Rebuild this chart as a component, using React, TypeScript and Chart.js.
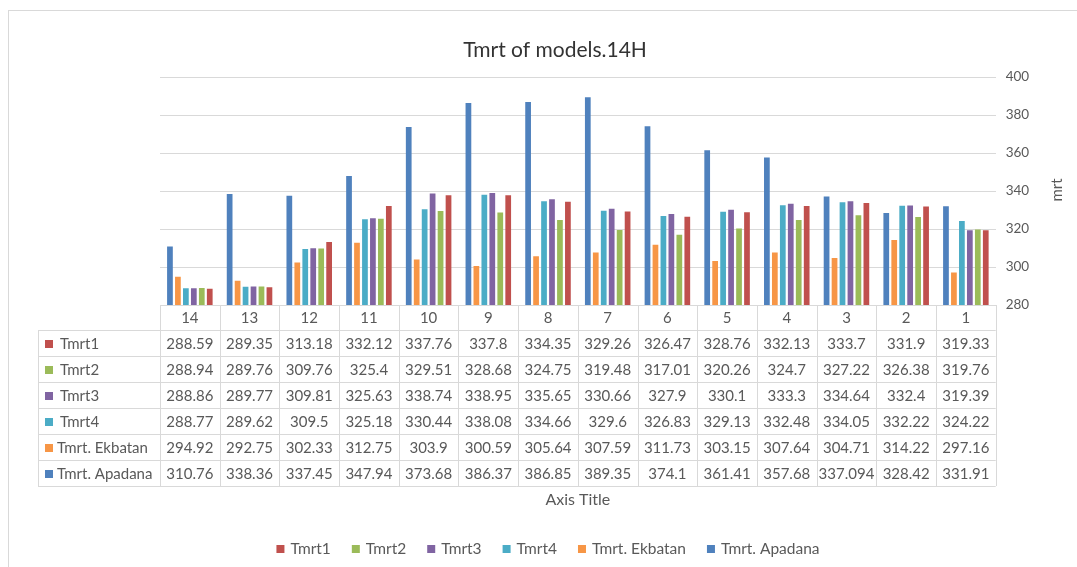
import React, { useEffect, useRef } from "react";
import { Chart, registerables } from "chart.js";

Chart.register(...registerables);

const categories = ["14", "13", "12", "11", "10", "9", "8", "7", "6", "5", "4", "3", "2", "1"];

const tmrt1 = [288.59, 289.35, 313.18, 332.12, 337.76, 337.8, 334.35, 329.26, 326.47, 328.76, 332.13, 333.7, 331.9, 319.33];
const tmrt2 = [288.94, 289.76, 309.76, 325.4, 329.51, 328.68, 324.75, 319.48, 317.01, 320.26, 324.7, 327.22, 326.38, 319.76];
const tmrt3 = [288.86, 289.77, 309.81, 325.63, 338.74, 338.95, 335.65, 330.66, 327.9, 330.1, 333.3, 334.64, 332.4, 319.39];
const tmrt4 = [288.77, 289.62, 309.5, 325.18, 330.44, 338.08, 334.66, 329.6, 326.83, 329.13, 332.48, 334.05, 332.22, 324.22];
const ekbatan = [294.92, 292.75, 302.33, 312.75, 303.9, 300.59, 305.64, 307.59, 311.73, 303.15, 307.64, 304.71, 314.22, 297.16];
const apadana = [310.76, 338.36, 337.45, 347.94, 373.68, 386.37, 386.85, 389.35, 374.1, 361.41, 357.68, 337.094, 328.42, 331.91];

const seriesNames = ["Tmrt1", "Tmrt2", "Tmrt3", "Tmrt4", "Tmrt. Ekbatan", "Tmrt. Apadana"];
const seriesValues = [tmrt1, tmrt2, tmrt3, tmrt4, ekbatan, apadana];
const seriesColors = ["#C0504D", "#9BBB59", "#8064A2", "#4BACC6", "#F79646", "#4F81BD"];

const yTicks = { min: 280, max: 400, step: 20 };
const chartTitle = "Tmrt of models.14H";
const xAxisTitle = "Axis Title";
const yAxisTitle = "mrt";

const FONT = "Lato, 'Open Sans', sans-serif";
const TEXT = "#595959";
const LINE = "#d9d9d9";

const tablePlugin = {
  id: "tableLegend",
  beforeDraw(chart: any) {
    const { ctx, width, height } = chart;
    ctx.save();
    ctx.fillStyle = "#ffffff";
    ctx.fillRect(0, 0, width, height);
    ctx.strokeStyle = "#d9d9d9";
    ctx.lineWidth = 1;
    ctx.strokeRect(8.5, 10.5, width - 8, height);
    ctx.restore();
  },
  afterDraw(chart: any) {
    const { ctx, chartArea } = chart;
    const xs = chart.scales.x;
    const left = chartArea.left;
    const right = chartArea.right;
    const n = categories.length;
    const cw = (right - left) / n;
    const top = Math.round(chartArea.bottom);
    const headerH = 25;
    const rowH = 26;
    const labelLeft = 38;
    const rows = seriesNames.length;
    const bottom = top + headerH + rows * rowH;

    ctx.save();
    // chart title
    ctx.fillStyle = "#333333";
    ctx.font = `21px ${FONT}`;
    ctx.textAlign = "center";
    ctx.textBaseline = "middle";
    ctx.fillText(chartTitle, 555, 50);

    // y-axis title, rotated reading upward
    ctx.save();
    ctx.translate(1057, 190);
    ctx.rotate(-Math.PI / 2);
    ctx.fillStyle = TEXT;
    ctx.font = `15px ${FONT}`;
    ctx.fillText(yAxisTitle, 0, 0);
    ctx.restore();

    ctx.strokeStyle = LINE;
    ctx.lineWidth = 1;
    ctx.beginPath();
    ctx.moveTo(left, top + 0.5);
    ctx.lineTo(right, top + 0.5);
    for (let r = 0; r <= rows; r++) {
      const y = Math.round(top + headerH + r * rowH) + 0.5;
      ctx.moveTo(labelLeft, y);
      ctx.lineTo(right, y);
    }
    for (let i = 0; i <= n; i++) {
      const x = Math.round(left + i * cw) + 0.5;
      ctx.moveTo(x, top);
      ctx.lineTo(x, bottom);
    }
    ctx.moveTo(labelLeft + 0.5, top + headerH);
    ctx.lineTo(labelLeft + 0.5, bottom);
    ctx.stroke();

    ctx.fillStyle = TEXT;
    ctx.font = `15px ${FONT}`;
    ctx.textAlign = "center";
    ctx.textBaseline = "middle";
    categories.forEach((c, i) => {
      const cx = xs.getPixelForValue(i);
      ctx.fillText(c, cx, top + headerH / 2 + 1);
    });
    seriesNames.forEach((name, r) => {
      const cy = top + headerH + r * rowH + rowH / 2 + 1;
      ctx.fillStyle = seriesColors[r];
      ctx.fillRect(labelLeft + 7, cy - 4, 8, 8);
      ctx.fillStyle = TEXT;
      ctx.textAlign = "left";
      ctx.fillText(name, labelLeft + (name.length > 6 ? 19 : 22), cy);
      ctx.textAlign = "center";
      seriesValues[r].forEach((v, i) => {
        const cx = xs.getPixelForValue(i);
        ctx.fillText(String(v), cx, cy);
      });
    });

    // x axis title
    ctx.font = `16px ${FONT}`;
    ctx.textAlign = "center";
    ctx.fillText(xAxisTitle, (left + right) / 2, 500);

    // legend
    ctx.font = `15.5px ${FONT}`;
    const box = 8;
    const gapBoxText = 6;
    const gapItems = 21;
    const widths = seriesNames.map((s) => box + gapBoxText + ctx.measureText(s).width);
    const total = widths.reduce((a, b) => a + b, 0) + gapItems * (widths.length - 1);
    let x = 548 - total / 2;
    const ly = 549;
    ctx.textAlign = "left";
    seriesNames.forEach((s, i) => {
      ctx.fillStyle = seriesColors[i];
      ctx.fillRect(x, ly - 4, box, box);
      ctx.fillStyle = TEXT;
      ctx.fillText(s, x + box + gapBoxText, ly);
      x += widths[i] + gapItems;
    });
    ctx.restore();
  },
};

export default function App() {
  const ref = useRef<HTMLCanvasElement | null>(null);
  useEffect(() => {
    document.body.style.margin = "0";
    const canvas = ref.current;
    if (!canvas) return;
    // bar order within each category: Apadana, Ekbatan, Tmrt4, Tmrt3, Tmrt2, Tmrt1
    const order = [5, 4, 3, 2, 1, 0];
    const chart = new Chart(canvas, {
      type: "bar",
      data: {
        labels: categories,
        datasets: order.map((k) => ({
          label: seriesNames[k],
          data: seriesValues[k],
          backgroundColor: seriesColors[k],
          borderWidth: 0,
          barPercentage: 0.72,
          categoryPercentage: 0.8,
        })),
      },
      options: {
        animation: false,
        responsive: false,
        maintainAspectRatio: false,
        layout: { padding: { left: 160, right: 7, top: 77, bottom: 262 } },
        plugins: {
          legend: { display: false },
          tooltip: { enabled: false },
          title: { display: false },
        },
        scales: {
          x: {
            display: false,
          },
          y: {
            position: "right",
            min: yTicks.min,
            max: yTicks.max,
            ticks: {
              stepSize: yTicks.step,
              color: TEXT,
              font: { family: FONT, size: 13.5 },
              padding: 10,
            },
            grid: { color: LINE, drawTicks: false },
            border: { display: false },
            title: {
              display: true,
              text: yAxisTitle,
              color: "rgba(0,0,0,0)",
              font: { family: FONT, size: 14 },
              padding: { top: 10, bottom: 4 },
            },
          },
        },
      },
      plugins: [tablePlugin],
    });
    return () => chart.destroy();
  }, []);
  return (
    <div style={{ width: 1077, height: 567 }}>
      <canvas ref={ref} width={1077} height={567} style={{ display: "block" }} />
    </div>
  );
}
